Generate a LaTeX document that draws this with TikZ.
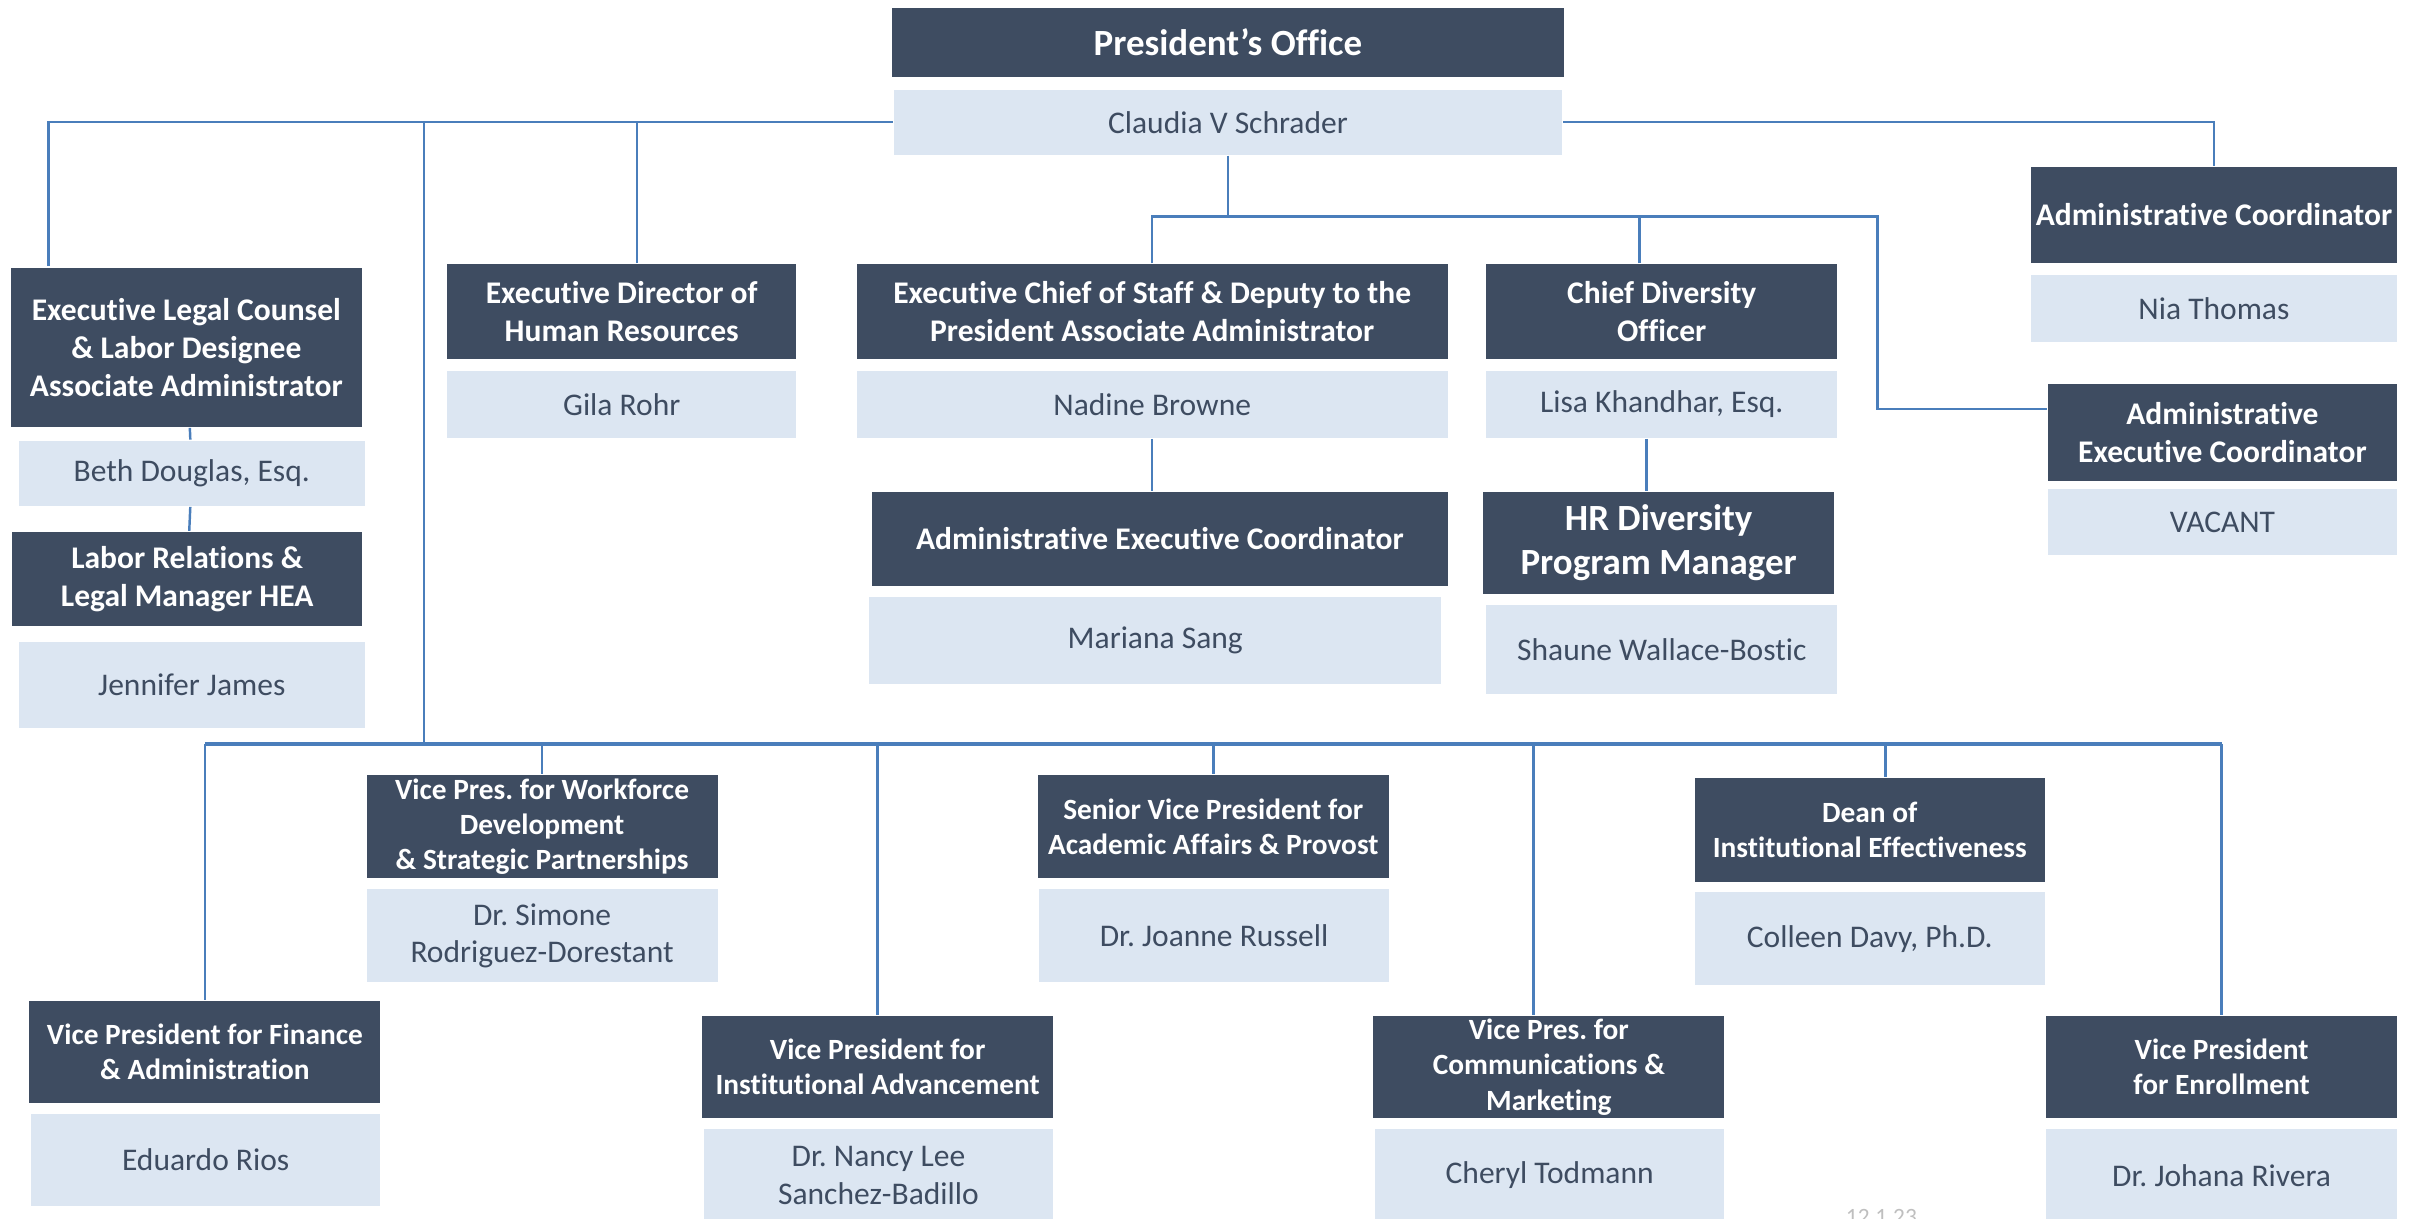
\documentclass[tikz,border=0pt]{standalone}
\usepackage{fontspec}
\setmainfont{Carlito}[Ligatures=NoCommon]
\definecolor{slate}{RGB}{62, 76, 97}
\definecolor{mist}{RGB}{220, 230, 242}
\definecolor{wire}{RGB}{74, 126, 187}

\begin{document}
\frenchspacing
\begin{tikzpicture}[
  role/.style={fill=slate, text=white, align=center, inner sep=0pt, font=\fontsize{5.8}{7}\selectfont\bfseries},
  vprole/.style={role, minimum width=2.27cm, minimum height=0.67cm, font=\fontsize{5.4}{6.5}\selectfont\bfseries},
  person/.style={fill=mist, text=slate, align=center, inner sep=0pt, font=\fontsize{5.8}{6.9}\selectfont},
  link/.style={draw=wire, line width=0.45pt},
  bus/.style={draw=wire, line width=0.8pt},
]
\useasboundingbox (0,0) rectangle (15.68,-7.88);

% President
\node[role, minimum width=4.34cm, minimum height=0.45cm, font=\fontsize{6.8}{8}\selectfont\bfseries] (pres) at (7.94,-0.275) {President’s Office};
\node[person, minimum width=4.32cm, minimum height=0.42cm] (claudia) at (7.94,-0.79) {Claudia V Schrader};

% Legal column
\node[role, minimum width=2.27cm, minimum height=1.03cm] (legal) at (1.205,-2.245) {Executive Legal Counsel\\\& Labor Designee\\Associate Administrator};
\node[person, minimum width=2.24cm, minimum height=0.42cm] (beth) at (1.24,-3.06) {Beth Douglas, Esq.};
\node[role, minimum width=2.26cm, minimum height=0.61cm] (labor) at (1.21,-3.745) {Labor Relations \&\\Legal Manager HEA};
\node[person, minimum width=2.24cm, minimum height=0.56cm] (jennifer) at (1.24,-4.43) {Jennifer James};

% Human resources
\node[role, minimum width=2.26cm, minimum height=0.61cm] (hrdir) at (4.02,-2.015) {Executive Director of\\Human Resources};
\node[person, minimum width=2.26cm, minimum height=0.43cm] (gila) at (4.02,-2.615) {Gila Rohr};

% Chief of staff
\node[role, minimum width=3.82cm, minimum height=0.61cm] (cos) at (7.45,-2.015) {Executive Chief of Staff \& Deputy to the\\President Associate Administrator};
\node[person, minimum width=3.82cm, minimum height=0.43cm] (nadine) at (7.45,-2.615) {Nadine Browne};
\node[role, minimum width=3.72cm, minimum height=0.61cm] (aec) at (7.50,-3.485) {Administrative Executive Coordinator};
\node[person, minimum width=3.70cm, minimum height=0.56cm] (mariana) at (7.47,-4.14) {Mariana Sang};

% Diversity
\node[role, minimum width=2.27cm, minimum height=0.61cm] (cdo) at (10.745,-2.015) {Chief Diversity\\Officer};
\node[person, minimum width=2.27cm, minimum height=0.43cm] (lisa) at (10.745,-2.615) {Lisa Khandhar, Esq.};
\node[role, minimum width=2.27cm, minimum height=0.66cm, font=\fontsize{6.8}{8}\selectfont\bfseries] (hrdiv) at (10.725,-3.51) {HR Diversity\\Program Manager};
\node[person, minimum width=2.27cm, minimum height=0.58cm] (shaune) at (10.745,-4.20) {Shaune Wallace-Bostic};

% Coordinators
\node[role, minimum width=2.37cm, minimum height=0.62cm] (admco) at (14.315,-1.39) {Administrative Coordinator};
\node[person, minimum width=2.37cm, minimum height=0.43cm] (nia) at (14.315,-1.995) {Nia Thomas};
\node[role, minimum width=2.26cm, minimum height=0.63cm] (admex) at (14.37,-2.795) {Administrative\\Executive Coordinator};
\node[person, minimum width=2.26cm, minimum height=0.43cm] (vacant) at (14.37,-3.375) {VACANT};

% Vice presidents, upper row
\node[vprole] (vpws) at (3.505,-5.345) {Vice Pres. for Workforce\\Development\\\& Strategic Partnerships};
\node[person, minimum width=2.27cm, minimum height=0.60cm] (simone) at (3.505,-6.05) {Dr. Simone\\Rodriguez-Dorestant};
\node[vprole] (svp) at (7.845,-5.345) {Senior Vice President for\\Academic Affairs \& Provost};
\node[person, minimum width=2.26cm, minimum height=0.60cm] (joanne) at (7.85,-6.05) {Dr. Joanne Russell};
\node[vprole, minimum width=2.26cm] (dean) at (12.09,-5.365) {Dean of\\Institutional Effectiveness};
\node[person, minimum width=2.26cm, minimum height=0.60cm] (colleen) at (12.09,-6.07) {Colleen Davy, Ph.D.};

% Vice presidents, lower row
\node[vprole, minimum height=0.66cm] (vpfa) at (1.325,-6.80) {Vice President for Finance\\\& Administration};
\node[person, minimum width=2.26cm, minimum height=0.60cm] (eduardo) at (1.33,-7.50) {Eduardo Rios};
\node[vprole, minimum height=0.66cm] (vpia) at (5.675,-6.90) {Vice President for\\Institutional Advancement};
\node[person, minimum width=2.26cm, minimum height=0.60cm] (nancy) at (5.68,-7.60) {Dr. Nancy Lee\\Sanchez-Badillo};
\node[vprole, minimum height=0.66cm] (vpcm) at (10.015,-6.90) {Vice Pres. for\\Communications \&\\Marketing};
\node[person, minimum width=2.26cm, minimum height=0.60cm] (cheryl) at (10.02,-7.60) {Cheryl Todmann};
\node[vprole, minimum height=0.66cm] (vpe) at (14.365,-6.90) {Vice President\\for Enrollment};
\node[person, minimum width=2.27cm, minimum height=0.60cm] (johana) at (14.365,-7.60) {Dr. Johana Rivera};

\node[anchor=north, inner sep=0pt, text=gray!50, font=\fontsize{4.3}{5}\selectfont] (stamp) at (12.165,-7.81) {12.1.23};

% connectors, top level
\draw[link] (claudia.west) -| ([xshift=2.5mm]legal.north west);
\draw[link] ([xshift=1mm]hrdir.north) |- (claudia.west);
\draw[link] (claudia.east) -| (admco.north);
\coordinate (hub) at (7.94,-1.40);
\coordinate (elbow) at (12.14,-1.40);
\draw[link] (claudia.south) -- (hub);
\draw[link] (cos.north) |- (hub) -- (elbow) |- ([yshift=1.5mm]admex.west);
\draw[link] ([xshift=-1.45mm]cdo.north) -- ([xshift=-1.45mm]cdo.north |- hub);

% connectors inside the columns
\draw[link] (legal) -- (beth);
\draw[link] (beth) -- (labor);
\draw[link] (nadine.south) -- (nadine.south |- aec.north);
\draw[link] ([xshift=-1mm]lisa.south) -- ([xshift=-1mm]lisa.south |- hrdiv.north);

% vice president bus
\coordinate (bus) at (2.74,-4.81);
\draw[link] (bus) |- (claudia.west);
\draw[bus] (vpfa.north |- bus) -- (vpe.north |- bus);
\draw[link] (vpfa.north |- bus) -- (vpfa.north);
\draw[link] (vpws.north |- bus) -- (vpws.north);
\draw[link] (vpia.north |- bus) -- (vpia.north);
\draw[link] (svp.north |- bus) -- (svp.north);
\draw[link] ([xshift=-1mm]vpcm.north |- bus) -- ([xshift=-1mm]vpcm.north);
\draw[link] ([xshift=1mm]dean.north |- bus) -- ([xshift=1mm]dean.north);
\draw[link] (vpe.north |- bus) -- (vpe.north);
\end{tikzpicture}
\end{document}
